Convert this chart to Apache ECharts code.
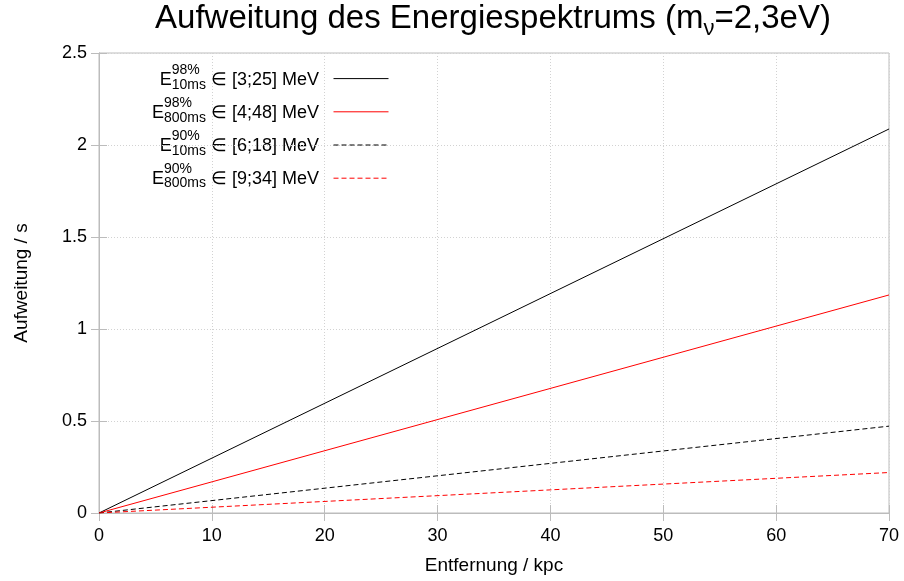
<!DOCTYPE html>
<html>
<head>
<meta charset="utf-8">
<script src="https://cdn.jsdelivr.net/npm/echarts@6/dist/echarts.min.js"></script>
<style>html,body{margin:0;padding:0;background:#fff}#chart{width:904px;height:581px}</style>
</head>
<body>
<div id="chart"></div>
<script>
// ---- data ----
const distances = [0, 70];                 // kpc
const spread98_10ms = [0, 2.087];          // s
const spread98_800ms = [0, 1.185];
const spread90_10ms = [0, 0.472];
const spread90_800ms = [0, 0.220];
const supLabels = ['98%', '98%', '90%', '90%'];
const subLabels = ['10ms', '800ms', '10ms', '800ms'];
const rangeLabels = ['[3;25] MeV', '[4;48] MeV', '[6;18] MeV', '[9;34] MeV'];
const xTicks = [0, 10, 20, 30, 40, 50, 60, 70];
const yTicks = [0, 0.5, 1, 1.5, 2, 2.5];
const titleMain = 'Aufweitung des Energiespektrums (m';
const titleSub = 'ν';
const titleEnd = '=2,3eV)';
const xName = 'Entfernung / kpc';
const yName = 'Aufweitung / s';

const FONT = '"Liberation Sans", Arial, sans-serif';
const seriesValues = [spread98_10ms, spread98_800ms, spread90_10ms, spread90_800ms];
const colors = ['#000000', '#ff0000', '#000000', '#ff0000'];
const dashes = ['solid', 'solid', [5, 3], [5, 3]];
const names = rangeLabels.map((r, i) => 'E' + supLabels[i] + '/' + subLabels[i] + ' ∈ ' + r);

const chart = echarts.init(document.getElementById('chart'), null, { renderer: 'canvas' });

// legend text layout (measured)
const cv = document.createElement('canvas').getContext('2d');
function tw(t, s) { cv.font = s + 'px ' + FONT; return cv.measureText(t).width; }
const MAIN = 18, SMALL = 14;
const rightEdge = 319;
const baseline0 = 86.5, rowStep = 32.8;
const graphics = [];
for (let i = 0; i < 4; i++) {
  const B = baseline0 + i * rowStep;
  const rest = ' ∈ ' + rangeLabels[i];
  const wRest = tw(rest, MAIN);
  const wSS = Math.max(tw(supLabels[i], SMALL), tw(subLabels[i], SMALL));
  const x0 = rightEdge - wRest - wSS;
  const mk = (text, x, y, size, align) => ({
    type: 'text', silent: true,
    style: { text, x, y, font: size + 'px ' + FONT, fill: '#000',
      textAlign: align, align: align, textVerticalAlign: 'middle', verticalAlign: 'middle' }
  });
  graphics.push(mk(rest, rightEdge, B - 0.35 * MAIN, MAIN, 'right'));
  graphics.push(mk('E', x0, B - 0.35 * MAIN, MAIN, 'right'));
  graphics.push(mk(supLabels[i], x0, B - 11 - 0.35 * SMALL, SMALL, 'left'));
  graphics.push(mk(subLabels[i], x0, B + 3.5 - 0.35 * SMALL, SMALL, 'left'));
}

const axisLineStyle = { color: '#bcbcbc', width: 1 };
const gridLineStyle = { color: '#d2d2d2', width: 1, type: [1, 2] };

const option = {
  backgroundColor: '#ffffff',
  animation: false,
  title: {
    text: '{m|' + titleMain + '}{s|' + titleSub + '}{m|' + titleEnd + '}',
    left: 493,
    textAlign: 'center',
    top: 1,
    padding: 0,
    textStyle: {
      fontWeight: 'normal',
      rich: {
        m: { fontFamily: FONT, fontSize: 33, fontWeight: 'normal', color: '#000', lineHeight: 36 },
        s: { fontFamily: FONT, fontSize: 22, fontWeight: 'normal', color: '#000', lineHeight: 22, padding: [20, 0, 0, 0] }
      }
    }
  },
  grid: { left: 99, right: 15, top: 53, bottom: 68, show: true, borderColor: '#bcbcbc', borderWidth: 1, containLabel: false },
  legend: {
    orient: 'vertical',
    left: 333,
    top: 73,
    padding: 0,
    itemWidth: 55,
    itemHeight: 14,
    itemGap: 22,
    data: names,
    formatter: () => '',
    textStyle: { fontSize: 10, lineHeight: 14 },
    itemStyle: { opacity: 0 },
    lineStyle: { width: 1 },
    selectedMode: false
  },
  xAxis: [{
    type: 'value', min: 0, max: 70, interval: 10,
    name: xName, nameLocation: 'middle', nameGap: 43,
    nameTextStyle: { fontFamily: FONT, fontSize: 19, color: '#000' },
    axisLine: { show: true, lineStyle: axisLineStyle },
    axisTick: { show: true, inside: true, length: 8, lineStyle: axisLineStyle },
    axisLabel: { fontFamily: FONT, fontSize: 18, color: '#000', margin: 14, formatter: v => xTicks.includes(v) ? String(v) : '' },
    splitLine: { show: true, lineStyle: gridLineStyle }
  }, {
    type: 'value', min: 0, max: 70, interval: 10, position: 'top',
    axisLine: { show: true, lineStyle: axisLineStyle },
    axisTick: { show: true, inside: true, length: 8, lineStyle: axisLineStyle },
    axisLabel: { show: false }, splitLine: { show: false }
  }],
  yAxis: [{
    type: 'value', min: 0, max: 2.5, interval: 0.5,
    name: yName, nameLocation: 'middle', nameGap: 68, nameRotate: 90,
    nameTextStyle: { fontFamily: FONT, fontSize: 19, color: '#000' },
    axisLine: { show: true, lineStyle: axisLineStyle },
    axisTick: { show: true, inside: true, length: 8, lineStyle: axisLineStyle },
    axisLabel: { fontFamily: FONT, fontSize: 18, color: '#000', margin: 12, formatter: v => yTicks.includes(v) ? String(v) : '' },
    splitLine: { show: true, lineStyle: gridLineStyle }
  }, {
    type: 'value', min: 0, max: 2.5, interval: 0.5, position: 'right',
    axisLine: { show: true, lineStyle: axisLineStyle },
    axisTick: { show: true, inside: true, length: 8, lineStyle: axisLineStyle },
    axisLabel: { show: false }, splitLine: { show: false }
  }],
  graphic: graphics,
  series: seriesValues.map((vals, i) => ({
    name: names[i],
    type: 'line',
    xAxisIndex: 0, yAxisIndex: 0,
    data: distances.map((d, j) => [d, vals[j]]),
    symbol: 'none',
    showSymbol: false,
    lineStyle: { color: colors[i], width: 1, type: dashes[i] },
    itemStyle: { color: colors[i] },
    emphasis: { disabled: true },
    z: 3
  }))
};
chart.setOption(option);
</script>
</body>
</html>
